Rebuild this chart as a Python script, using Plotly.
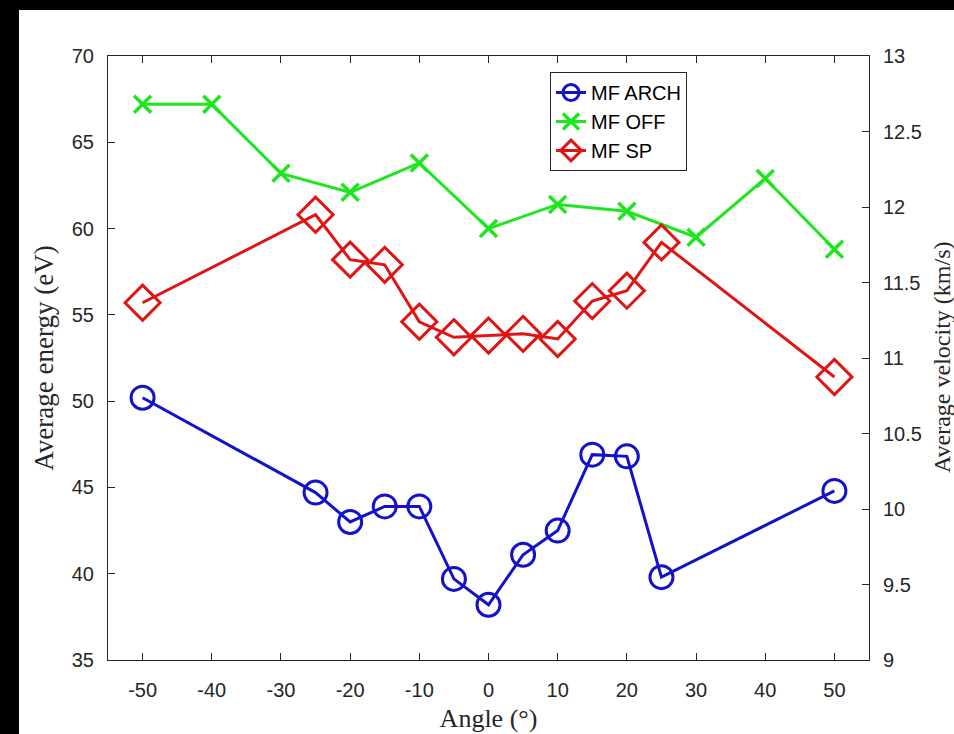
import plotly.graph_objects as go

# ---- data ----
angles_arch = [-50, -25, -20, -15, -10, -5, 0, 5, 10, 15, 20, 25, 50]
energy_arch = [50.2, 44.7, 43.0, 43.9, 43.9, 39.7, 38.2, 41.1, 42.5, 46.9, 46.8, 39.8, 44.8]

angles_off = [-50, -40, -30, -20, -10, 0, 10, 20, 30, 40, 50]
energy_off = [67.2, 67.2, 63.2, 62.1, 63.8, 60.0, 61.4, 61.0, 59.5, 62.9, 58.8]

angles_sp = [-50, -25, -20, -15, -10, -5, 0, 5, 10, 15, 20, 25, 50]
energy_sp = [55.7, 60.8, 58.2, 57.9, 54.6, 53.7, 53.8, 53.9, 53.6, 55.8, 56.4, 59.2, 51.4]

x_ticks = [-50, -40, -30, -20, -10, 0, 10, 20, 30, 40, 50]
series_names = ["MF ARCH", "MF OFF", "MF SP"]

# ---- style ----
W, H = 954, 734
ML, MR, MT, MB = 108, 85, 56, 74
PW, PH = W - ML - MR, H - MT - MB
AX = "#262626"
TICKFONT = dict(family="Liberation Sans, Arial, sans-serif", size=20, color=AX)
TITLEFONT = dict(family="Liberation Serif, Times New Roman, serif", size=26, color=AX)

BLUE = "rgb(18,18,205)"
GREEN = "rgb(30,230,30)"
RED = "rgb(225,20,20)"

fig = go.Figure()
fig.add_trace(go.Scatter(
    x=angles_arch, y=energy_arch, name=series_names[0], mode="lines+markers",
    line=dict(color=BLUE, width=3),
    marker=dict(symbol="circle-open", size=23, color=BLUE, line=dict(width=3, color=BLUE)),
))
fig.add_trace(go.Scatter(
    x=angles_off, y=energy_off, name=series_names[1], mode="lines+markers",
    line=dict(color=GREEN, width=3),
    marker=dict(symbol="x-thin-open", size=17, color=GREEN, line=dict(width=3.5, color=GREEN)),
))
fig.add_trace(go.Scatter(
    x=angles_sp, y=energy_sp, name=series_names[2], mode="lines+markers",
    line=dict(color=RED, width=3),
    marker=dict(symbol="diamond-open", size=27, color=RED, line=dict(width=3, color=RED)),
))
# empty trace to activate the right axis
fig.add_trace(go.Scatter(x=[], y=[], yaxis="y2", showlegend=False, hoverinfo="skip"))

fig.update_layout(
    width=W, height=H,
    margin=dict(l=ML, r=MR, t=MT, b=MB, pad=0, autoexpand=False),
    paper_bgcolor="white", plot_bgcolor="white",
    showlegend=True,
    legend=dict(
        x=(550 - ML) / PW, y=1 - (72 - MT) / PH, xanchor="left", yanchor="top",
        bgcolor="white", bordercolor=AX, borderwidth=1,
        font=dict(family="Liberation Sans, Arial, sans-serif", size=20, color="black"),
        tracegroupgap=0,
    ),
    xaxis=dict(
        range=[-55, 55], tickvals=x_ticks, ticktext=[str(v) for v in x_ticks],
        ticks="inside", ticklen=7, tickcolor=AX, tickwidth=1,
        showline=True, linecolor=AX, linewidth=1, mirror="ticks",
        showgrid=False, zeroline=False, tickfont=TICKFONT, automargin=False,
        ticklabelstandoff=12,
        title=dict(text="Angle (°)", font=TITLEFONT, standoff=8),
    ),
    yaxis=dict(
        range=[35, 70], dtick=5, tick0=35,
        ticks="inside", ticklen=7, tickcolor=AX, tickwidth=1,
        showline=True, linecolor=AX, linewidth=1, mirror=False,
        showgrid=False, zeroline=False, tickfont=TICKFONT, automargin=False,
        ticklabelstandoff=9,
        title=dict(text="Average energy (eV)", font=dict(TITLEFONT, size=27), standoff=10),
    ),
    yaxis2=dict(
        overlaying="y", side="right", anchor="x",
        range=[9, 13], dtick=0.5, tick0=9,
        ticks="inside", ticklen=7, tickcolor=AX, tickwidth=1,
        showline=True, linecolor=AX, linewidth=1,
        showgrid=False, zeroline=False, tickfont=TICKFONT, automargin=False,
        ticklabelstandoff=9,
    ),
    annotations=[dict(
        text="Average velocity (km/s)", textangle=-90,
        xref="paper", yref="paper", x=1 + (927 - (W - MR)) / PW, y=0.5,
        xanchor="left", yanchor="middle", showarrow=False,
        font=dict(TITLEFONT, size=24),
    )],
    shapes=[
        dict(type="rect", xref="paper", yref="paper", layer="above",
             x0=-ML / PW - 0.02, x1=1 + MR / PW + 0.02,
             y0=1 + (MT - 10) / PH, y1=1 + MT / PH + 0.02,
             fillcolor="black", line=dict(width=0)),
        dict(type="rect", xref="paper", yref="paper", layer="above",
             x0=-ML / PW - 0.02, x1=-(ML - 19) / PW,
             y0=-MB / PH - 0.02, y1=1 + MT / PH + 0.02,
             fillcolor="black", line=dict(width=0)),
    ],
)

fig.write_html("out.html")
